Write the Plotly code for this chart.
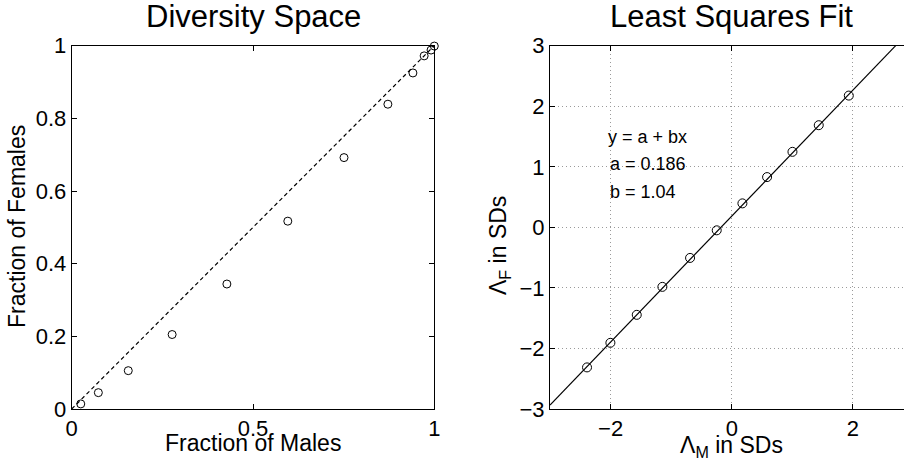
import plotly.graph_objects as go

# ---- data ----
males_frac = [0.025, 0.0735, 0.156, 0.277, 0.428, 0.596, 0.751, 0.872, 0.941, 0.972, 0.991, 1.0]
females_frac = [0.014, 0.045, 0.1055, 0.205, 0.344, 0.517, 0.692, 0.839, 0.925, 0.972, 0.988, 0.999]
diag_x = [0, 1]
diag_y = [0, 1]

lam_m = [-2.389, -2.003, -1.568, -1.145, -0.688, -0.248, 0.176, 0.583, 1.002, 1.436, 1.932]
lam_f = [-2.313, -1.907, -1.445, -0.983, -0.505, -0.049, 0.396, 0.830, 1.247, 1.687, 2.176]
fit_a = 0.186
fit_b = 1.04

left_xticks = [0, 0.5, 1]
left_xticklabels = ["0", "0.5", "1"]
left_yticks = [0, 0.2, 0.4, 0.6, 0.8, 1]
left_yticklabels = ["0", "0.2", "0.4", "0.6", "0.8", "1"]
right_xticks = [-2, 0, 2]
right_yticks = [-3, -2, -1, 0, 1, 2, 3]

W, H = 904, 466
FONT = "Liberation Sans, Arial, Helvetica, sans-serif"

fit_x = [-3, (3 - fit_a) / fit_b]
fit_y = [fit_a + fit_b * v for v in fit_x]

fig = go.Figure()
fig.add_trace(go.Scatter(x=diag_x, y=diag_y, mode="lines",
                         line=dict(color="black", width=1.2, dash="4px,3px"),
                         xaxis="x", yaxis="y", showlegend=False))
fig.add_trace(go.Scatter(x=males_frac, y=females_frac, mode="markers",
                         marker=dict(symbol="circle-open", size=8, color="black",
                                     line=dict(width=1, color="black")),
                         cliponaxis=False, xaxis="x", yaxis="y", showlegend=False))
fig.add_trace(go.Scatter(x=fit_x, y=fit_y, mode="lines",
                         line=dict(color="black", width=1.2),
                         xaxis="x2", yaxis="y2", showlegend=False))
fig.add_trace(go.Scatter(x=lam_m, y=lam_f, mode="markers",
                         marker=dict(symbol="circle-open", size=9, color="black",
                                     line=dict(width=1, color="black")),
                         xaxis="x2", yaxis="y2", showlegend=False))

def px(x):
    return x / W

def py(y):
    return 1 - y / H

axis_common = dict(showline=True, linecolor="black", linewidth=1,
                   ticks="inside", ticklen=5, tickcolor="black", tickwidth=1,
                   zeroline=False, automargin=False,
                   tickfont=dict(family=FONT, size=22, color="black"))

grid = dict(showgrid=True, gridcolor="#9a9a9a", griddash="1px,3px", gridwidth=1)

fig.update_layout(
    width=W, height=H,
    margin=dict(l=0, r=0, t=0, b=0, autoexpand=False),
    paper_bgcolor="white", plot_bgcolor="white",
    xaxis=dict(domain=[px(71.7), px(434.3)], range=[0, 1], tickvals=left_xticks,
               ticktext=left_xticklabels, mirror="ticks", showgrid=False,
               anchor="y", **axis_common),
    yaxis=dict(domain=[py(409), py(45.7)], range=[0, 1], tickvals=left_yticks,
               ticktext=left_yticklabels, mirror="ticks", showgrid=False,
               anchor="x", **axis_common),
    xaxis2=dict(domain=[px(550), 1.0], range=[-3, 2.843], tickvals=right_xticks,
                mirror="ticks", anchor="y2", **grid, **axis_common),
    yaxis2=dict(domain=[py(409), py(45.7)], range=[-3, 3], tickvals=right_yticks,
                mirror=False, anchor="x2", **grid, **axis_common),
)

def txt(text, x, y, size, angle=0, xanchor="center", yanchor="middle"):
    fig.add_annotation(text=text, x=px(x), y=py(y), xref="paper", yref="paper",
                       showarrow=False, textangle=angle, xanchor=xanchor, yanchor=yanchor,
                       font=dict(family=FONT, size=size, color="black"))

txt("Diversity Space", 253, 17, 31)
txt("Least Squares Fit", 731, 17, 31)
txt("Fraction of Males", 253, 443, 23)
txt("Λ<sub>M</sub> in SDs", 731, 446, 23)
txt("Fraction of Females", 17, 227, 23, angle=-90)
txt("Λ<sub>F</sub> in SDs", 499, 246, 23, angle=-90)

fig.add_annotation(text="y = a + bx", x=-2.07, y=1.5, xref="x2", yref="y2",
                   showarrow=False, xanchor="left", yanchor="middle",
                   font=dict(family=FONT, size=18, color="black"))
fig.add_annotation(text="a = " + str(fit_a), x=-2.05, y=1.05, xref="x2", yref="y2",
                   showarrow=False, xanchor="left", yanchor="middle",
                   font=dict(family=FONT, size=18, color="black"))
fig.add_annotation(text="b = " + str(fit_b), x=-2.05, y=0.59, xref="x2", yref="y2",
                   showarrow=False, xanchor="left", yanchor="middle",
                   font=dict(family=FONT, size=18, color="black"))

# remove the browser's default 8px body margin so the figure fills the window
fig.write_html("out.html",
               config={"displayModeBar": False},
               post_script="document.body.style.margin='0';document.body.style.overflow='hidden';")
